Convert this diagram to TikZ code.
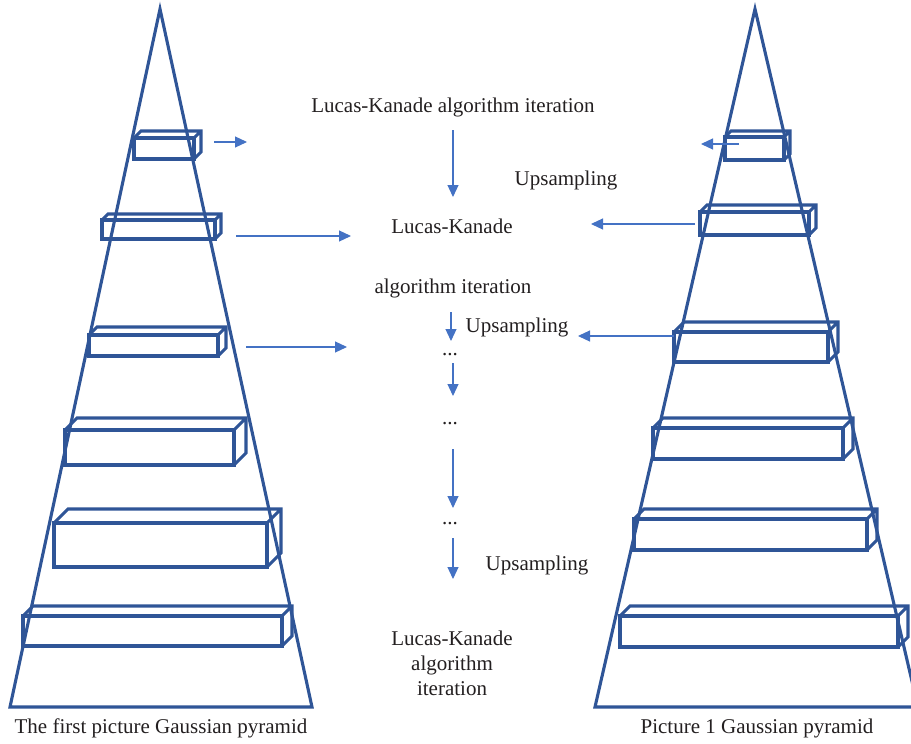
\documentclass[tikz,border=0pt]{standalone}
\usepackage{fontspec}
\setmainfont{Liberation Serif}
\usetikzlibrary{arrows.meta}
\definecolor{pyr}{HTML}{2F5597}
\definecolor{arr}{HTML}{4472C4}
\definecolor{txt}{HTML}{231F20}
\newcommand\mycuboid[6]{%
  \node[boxfront, minimum width={(#4-#2)*1pt}, minimum height={(#5-#3)*1pt}] (#1) at ({(#2+#4)/2},{(#3+#5)/2}) {};
  \draw[pyrline] (#1.north west) -- ++(#6,-#6) -- ++({#4-#2},0) -- ++(0,{#5-#3}) -- (#1.south east)
    (#1.north east) -- ++(#6,-#6);
}
\begin{document}
\begin{tikzpicture}[x=1pt,y=-1pt,
  pyrline/.style={draw=pyr, line width=3.1pt, line join=miter},
  boxfront/.style={draw=pyr, line width=3.1pt, inner sep=0pt, outer sep=0pt, rectangle},
  flow/.style={draw=arr, line width=1.2pt, -{Triangle[length=12pt,width=11pt]}},
  lbl/.style={text=txt, font=\fontsize{21}{25}\selectfont, inner sep=0pt, align=center, anchor=base}]
\useasboundingbox (0,0) rectangle (911,744);
\clip (0,0) rectangle (911,744);
% pyramids
\draw[pyrline] (10,707) -- (160,9) -- (312,707) -- cycle;
\draw[pyrline] (595,707) -- (755,9) -- (918,707) -- cycle;
% left boxes
\mycuboid{L1}{134}{138}{194}{159}{7}
\mycuboid{L2}{102}{220}{215}{239}{6}
\mycuboid{L3}{89}{335}{218}{356}{8}
\mycuboid{L4}{65}{430}{234}{465}{12}
\mycuboid{L5}{54}{523}{267}{567}{14}
\mycuboid{L6}{23}{616}{282}{646}{10}
% right boxes
\mycuboid{R1}{725}{137}{784}{160}{6}
\mycuboid{R2}{700}{212}{809}{235}{7}
\mycuboid{R3}{674}{332}{828}{362}{10}
\mycuboid{R4}{653}{428}{843}{459}{10}
\mycuboid{R5}{634}{519}{867}{550}{10}
\mycuboid{R6}{620}{616}{898}{647}{10}
% texts
\node[lbl] (t1) at (453,112) {Lucas-Kanade algorithm iteration};
\node[lbl] (up1) at (566,185) {Upsampling};
\node[lbl] (lk) at (452,233) {Lucas-Kanade};
\node[lbl] (ai) at (453,293) {algorithm iteration};
\node[lbl] (up2) at (517,332) {Upsampling};
\node[lbl] (d1) at (450,355) {...};
\node[lbl] (d2) at (450,424) {...};
\node[lbl] (d3) at (450,524) {...};
\node[lbl] (up3) at (537,570) {Upsampling};
\node[text=txt, font=\fontsize{21}{25}\selectfont, inner sep=0pt, align=center] (lk3) at (452,663) {Lucas-Kanade\\algorithm\\iteration};
\node[lbl] (cap1) at (161,733) {The first picture Gaussian pyramid};
\node[lbl] (cap2) at (757,733) {Picture 1 Gaussian pyramid};
% arrow end points
\coordinate (a1s) at (214,142); \coordinate (a1e) at (247,142);
\coordinate (a2s) at (236,236); \coordinate (a2e) at (351,236);
\coordinate (a3s) at (246,347); \coordinate (a3e) at (347,347);
\coordinate (b1s) at (739,144); \coordinate (b1e) at (701,144);
\coordinate (b2s) at (695,224); \coordinate (b2e) at (591,224);
\coordinate (b3s) at (674,336); \coordinate (b3e) at (578,336);
\coordinate (c1s) at (453,130); \coordinate (c1e) at (453,197);
\coordinate (c2s) at (451,312); \coordinate (c2e) at (451,341);
\coordinate (c3s) at (453,363); \coordinate (c3e) at (453,396);
\coordinate (c4s) at (453,449); \coordinate (c4e) at (453,508);
\coordinate (c5s) at (453,538); \coordinate (c5e) at (453,579);
\foreach \a in {a1,a2,a3,b1,b2,b3,c1,c2,c3,c4,c5}{
  \draw[flow] (\a s) -- (\a e);
}
\end{tikzpicture}
\end{document}
